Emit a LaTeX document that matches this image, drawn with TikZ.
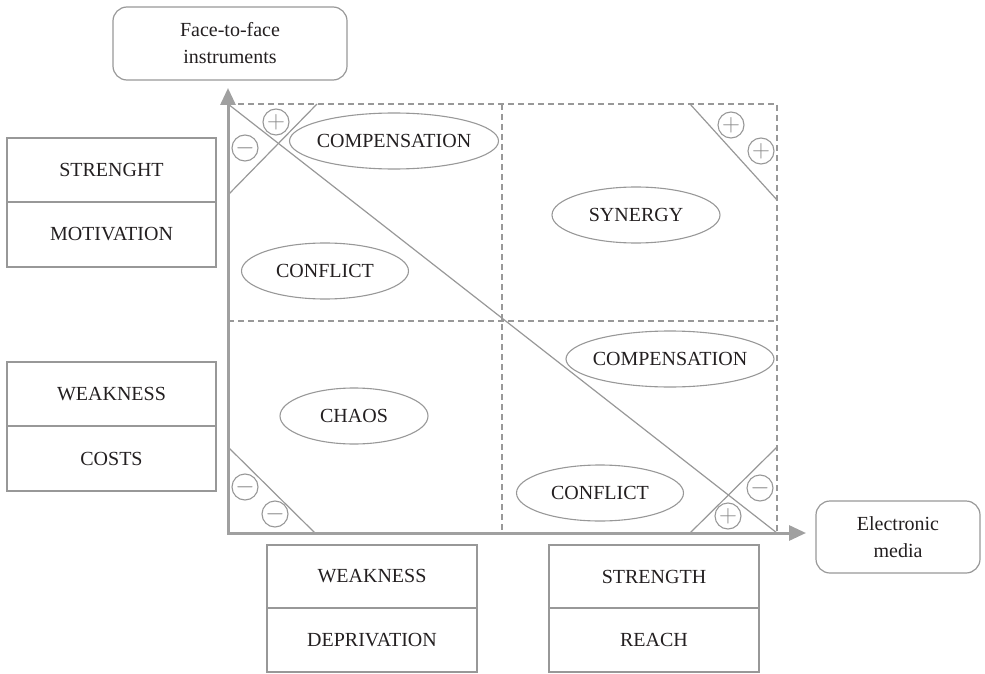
\documentclass[tikz,border=0pt]{standalone}
\usepackage{fontspec}
\setmainfont{Liberation Serif}
\usetikzlibrary{shapes.geometric,arrows.meta}
\definecolor{lin}{RGB}{152,152,152}
\definecolor{axc}{RGB}{160,160,160}
\definecolor{txt}{RGB}{35,31,32}
\newcommand{\zw}[1]{\makebox[0pt]{#1}}
\tikzset{
  lbl/.style={font=\fontsize{20}{27}\selectfont, text=txt},
  cell/.style={lbl, draw=lin, line width=1.2pt, rectangle, inner sep=0pt},
  rbox/.style={lbl, draw=lin, line width=1.2pt, rectangle, rounded corners=14pt, align=center, inner sep=0pt},
  oval/.style={lbl, draw=lin, line width=1.1pt, ellipse, inner sep=0pt, minimum height=56pt},
  sign/.style={draw=lin, line width=1.1pt, circle, minimum size=26pt, inner sep=0pt, text=lin!90!black, font=\fontsize{24}{24}\selectfont},
  thin/.style={draw=lin, line width=1.2pt},
  dsh/.style={draw=lin, line width=1.2pt, dash pattern=on 6pt off 4pt},
  axis/.style={draw=axc, line width=3pt, {Triangle[length=17pt,width=15pt]}-{Triangle[length=17pt,width=15pt]}}
}
\begin{document}
\begin{tikzpicture}[x=1pt,y=-1pt]
\useasboundingbox (0,0) rectangle (985,674);
% key coordinates
\coordinate (O) at (228,533);
\coordinate (Ytip) at (228,88);
\coordinate (Xtip) at (806,533);
\coordinate (TL) at (228,104);
\coordinate (TM) at (502,104);
\coordinate (TR) at (777,104);
\coordinate (ML) at (228,321);
\coordinate (MR) at (777,321);
\coordinate (BM) at (502,533);
\coordinate (BR) at (777,533);
% dashed grid
\draw[dsh] (TL) -- (TR) -- (BR);
\draw[dsh] (TM) -- (BM);
\draw[dsh] (ML) -- (MR);
% diagonals
\draw[thin] (TL) -- (BR);
\coordinate (a1) at (228,195); \coordinate (a2) at (317,104);
\draw[thin] (a1) -- (a2);
\coordinate (b1) at (690,104); \coordinate (b2) at (777,200);
\draw[thin] (b1) -- (b2);
\coordinate (c1) at (228,447); \coordinate (c2) at (315,533);
\draw[thin] (c1) -- (c2);
\coordinate (d1) at (690,533); \coordinate (d2) at (777,447);
\draw[thin] (d1) -- (d2);
% axes
\draw[axis] (Ytip) -- (O) -- (Xtip);
% sign circles
\node[sign] (s1) at (245,148) {$-$};
\node[sign] (s2) at (276,122) {$+$};
\node[sign] (s3) at (731,125) {$+$};
\node[sign] (s4) at (761,151) {$+$};
\node[sign] (s5) at (245,487) {$-$};
\node[sign] (s6) at (275,514) {$-$};
\node[sign] (s7) at (728,516) {$+$};
\node[sign] (s8) at (760,488) {$-$};
% ellipses
\node[oval, minimum width=209pt] (comp1) at (394,141) {\zw{COMPENSATION}};
\node[oval, minimum width=167pt] (conf1) at (325,271) {\zw{CONFLICT}};
\node[oval, minimum width=148pt] (chaos) at (354,416) {\zw{CHAOS}};
\node[oval, minimum width=168pt] (syn) at (636,215) {\zw{SYNERGY}};
\node[oval, minimum width=208pt] (comp2) at (670,359) {\zw{COMPENSATION}};
\node[oval, minimum width=167pt] (conf2) at (600,493) {\zw{CONFLICT}};
% rounded boxes
\node[rbox, minimum width=234pt, minimum height=73pt] (ftf) at (230,43.5) {Face-to-face\\instruments};
\node[rbox, minimum width=164pt, minimum height=72pt] (em) at (898,537) {Electronic\\media};
% left boxes
\node[cell, minimum width=209pt, minimum height=64pt] (l1) at (111.5,170) {STRENGHT};
\node[cell, minimum width=209pt, minimum height=65pt] (l2) at (111.5,234.5) {MOTIVATION};
\node[cell, minimum width=209pt, minimum height=64pt] (l3) at (111.5,394) {WEAKNESS};
\node[cell, minimum width=209pt, minimum height=65pt] (l4) at (111.5,458.5) {COSTS};
% bottom boxes
\node[cell, minimum width=210pt, minimum height=63pt] (b1n) at (372,576.5) {WEAKNESS};
\node[cell, minimum width=210pt, minimum height=64pt] (b2n) at (372,640) {DEPRIVATION};
\node[cell, minimum width=210pt, minimum height=63pt] (b3n) at (654,576.5) {STRENGTH};
\node[cell, minimum width=210pt, minimum height=64pt] (b4n) at (654,640) {REACH};
\end{tikzpicture}
\end{document}
